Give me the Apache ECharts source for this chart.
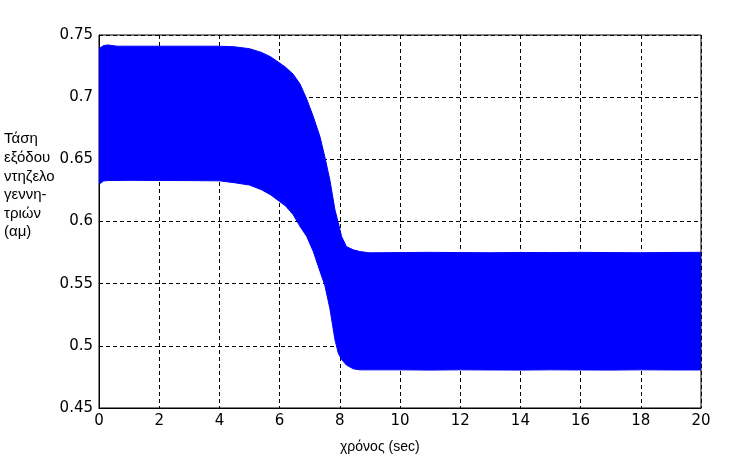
<!DOCTYPE html>
<html><head><meta charset="utf-8">
<script src="https://cdn.jsdelivr.net/npm/echarts@6/dist/echarts.min.js"></script>
<style>html,body{margin:0;padding:0;background:#fff}#c{width:744px;height:459px}</style>
</head><body><div id="c"></div>
<script>
var timeSec = [0, 0.15, 0.3, 0.6, 1, 2, 3, 4, 4.5, 5, 5.4, 5.7, 6, 6.2, 6.45, 6.68, 6.9, 7.12, 7.34, 7.5, 7.67, 7.84, 7.95, 8.06, 8.22, 8.45, 8.67, 9, 10, 11, 12, 13, 14, 15, 16, 17, 18, 19, 20];
var upperEnv = [0.739, 0.7415, 0.742, 0.741, 0.741, 0.741, 0.741, 0.741, 0.7405, 0.739, 0.736, 0.7325, 0.7275, 0.724, 0.7185, 0.7105, 0.6985, 0.6843, 0.6683, 0.6522, 0.6334, 0.6093, 0.599, 0.5879, 0.5798, 0.5772, 0.5758, 0.5748, 0.575, 0.5752, 0.575, 0.5749, 0.5751, 0.575, 0.5752, 0.575, 0.5749, 0.5751, 0.5752];
var lowerEnv = [0.630, 0.6325, 0.633, 0.633, 0.6331, 0.633, 0.6329, 0.6327, 0.6312, 0.6293, 0.6255, 0.6215, 0.616, 0.6125, 0.6055, 0.596, 0.588, 0.5758, 0.560, 0.549, 0.530, 0.5048, 0.4941, 0.489, 0.4845, 0.4815, 0.4807, 0.4807, 0.4807, 0.4805, 0.4807, 0.4806, 0.4805, 0.4807, 0.4806, 0.4805, 0.4807, 0.4806, 0.4806];
var xTicks = [0, 2, 4, 6, 8, 10, 12, 14, 16, 18, 20];
var yTicks = [0.45, 0.5, 0.55, 0.6, 0.65, 0.7, 0.75];
var yName = 'Τάση\nεξόδου\nντηζελο\nγεννη-\nτριών\n(αμ)';
var xName = 'χρόνος (sec)';

var chart = echarts.init(document.getElementById('c'), null, {renderer: 'canvas'});
var bandData = timeSec.map(function (t, i) { return [t, upperEnv[i], lowerEnv[i]]; });
var tickFont = '"DejaVu Sans", sans-serif';
var textFont = 'Arial, "Liberation Sans", sans-serif';
chart.setOption({
  animation: false,
  grid: {left: 99, right: 43, top: 35, bottom: 51, show: true, borderColor: '#000', borderWidth: 1, backgroundColor: 'transparent'},
  xAxis: {
    type: 'value', min: 0, max: 20, interval: 2,
    axisLine: {lineStyle: {color: '#000'}},
    axisTick: {show: false},
    axisLabel: {fontFamily: tickFont, fontSize: 15, color: '#000', margin: 6,
      formatter: function (v) { return xTicks.indexOf(v) >= 0 ? String(v) : ''; }},
    splitLine: {show: true, lineStyle: {color: '#000', type: [4, 3], width: 1}}
  },
  yAxis: {
    type: 'value', min: 0.45, max: 0.75, interval: 0.05,
    axisLine: {show: true, lineStyle: {color: '#000'}},
    axisTick: {show: false},
    axisLabel: {fontFamily: tickFont, fontSize: 15, color: '#000', margin: 6,
      formatter: function (v) { var r = Math.round(v * 100) / 100; return yTicks.indexOf(r) >= 0 ? String(r) : ''; }},
    splitLine: {show: true, lineStyle: {color: '#000', type: [4, 3], width: 1}}
  },
  graphic: [{
    type: 'text', left: 4, top: 130,
    style: {text: yName, fontFamily: textFont, fontSize: 15, lineHeight: 18.6, fill: '#000'}
  }, {
    type: 'text', left: 340, top: 440,
    style: {text: xName, fontFamily: textFont, fontSize: 14, fill: '#000'}
  }],
  series: [{
    type: 'custom',
    data: bandData,
    encode: {x: 0, y: [1, 2]},
    clip: true,
    renderItem: function (params, api) {
      if (params.dataIndex !== 0) return null;
      var top = [], bot = [];
      for (var i = 0; i < timeSec.length; i++) {
        top.push(api.coord([timeSec[i], upperEnv[i]]));
        bot.push(api.coord([timeSec[i], lowerEnv[i]]));
      }
      var pts = top.concat(bot.reverse());
      return {type: 'polygon', shape: {points: pts}, style: {fill: '#0000FF', stroke: '#0000FF', lineWidth: 1}};
    }
  }]
});
</script></body></html>
